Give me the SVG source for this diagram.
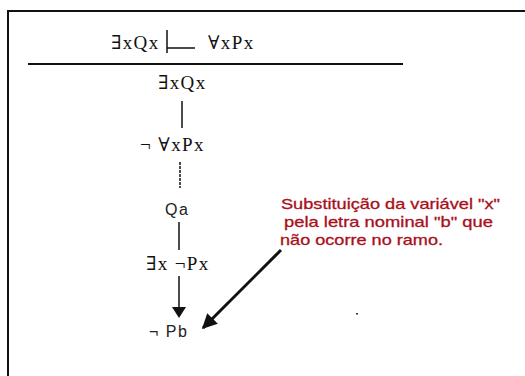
<svg xmlns="http://www.w3.org/2000/svg" width="525" height="376" viewBox="0 0 525 376">
<style>
.f{font-family:"Liberation Serif","DejaVu Serif",serif;font-size:19px;fill:#111;letter-spacing:1.4px}
.s{font-family:"Liberation Sans",Arial,sans-serif;font-size:16px;fill:#222;letter-spacing:1.5px}
.r{font-family:"Liberation Sans",Arial,sans-serif;font-size:14.5px;fill:#a8101c;stroke:#a8101c;stroke-width:0.3}
.l{stroke:#111;stroke-width:1.5;fill:none}
</style>
<defs>
<marker id="ah" viewBox="0 0 10 10" refX="9" refY="5" markerWidth="5" markerHeight="5" orient="auto"><path d="M0,0L10,5L0,10z" fill="#111"/></marker>
</defs>
<rect width="525" height="376" fill="#fff"/>
<path d="M8,376V11H525" stroke="#111" stroke-width="2" fill="none"/>
<g id="premise">
<text class="f" x="111" y="49">∃xQx</text>
<path d="M167,30V53M167,48H195" class="l"/>
<text class="f" x="208" y="49">∀xPx</text>
</g>
<line x1="28" y1="64" x2="403" y2="64" stroke="#111" stroke-width="2"/>
<g id="n1"><text class="f" x="158" y="89">∃xQx</text></g>
<g id="n2"><text class="f" x="140" y="151">¬ ∀xPx</text></g>
<g id="n3"><text class="s" x="165" y="215">Qa</text></g>
<g id="n4"><text class="f" x="146" y="270">∃x ¬Px</text></g>
<g id="n5"><text class="s" x="149" y="337">¬ Pb</text></g>
<g id="note">
<text class="r" x="281" y="209" textLength="219" lengthAdjust="spacingAndGlyphs">Substituição da variável "x"</text>
<text class="r" x="284" y="227" textLength="209" lengthAdjust="spacingAndGlyphs">pela letra nominal "b" que</text>
<text class="r" x="280" y="245" textLength="163" lengthAdjust="spacingAndGlyphs">não ocorre no ramo.</text>
</g>
<g id="connectors">
<line x1="182" y1="101" x2="182" y2="128" class="l"/>
<line x1="180" y1="162" x2="180" y2="188" class="l" stroke-dasharray="3,1"/>
<line x1="179" y1="222" x2="179" y2="250" class="l"/>
<line x1="179" y1="276" x2="179" y2="308" class="l"/>
<path d="M172,307H186L179,318z" fill="#111"/>
<line x1="281" y1="250" x2="203" y2="328" stroke="#111" stroke-width="3" marker-end="url(#ah)"/>
</g>
<rect x="356" y="313" width="2" height="1.5" fill="#333"/>
</svg>
